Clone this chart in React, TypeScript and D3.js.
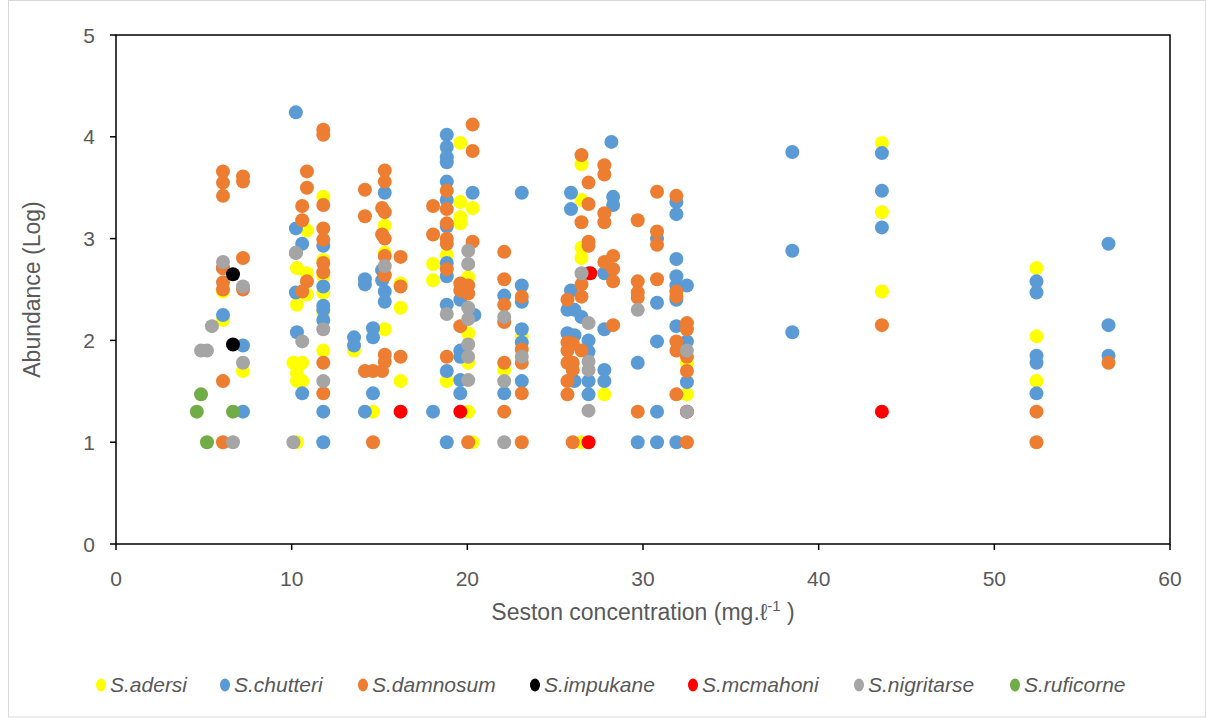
import * as d3 from "d3";

// species colours, in Excel draw order
const species = [
  "S.adersi",
  "S.chutteri",
  "S.damnosum",
  "S.impukane",
  "S.mcmahoni",
  "S.nigritarse",
  "S.ruficorne",
];
const colors = ["#FFFF00", "#5B9BD5", "#ED7D31", "#000000", "#FF0000", "#A5A5A5", "#70AD47"];

const xTicks = [0, 10, 20, 30, 40, 50, 60];
const yTicks = [0, 1, 2, 3, 4, 5];

// [seston, log abundance]
const adersi = [
  [6.09, 2.48], [6.09, 2.2], [7.23, 1.7],
  [10.87, 3.08], [10.3, 2.71], [10.87, 2.66], [11.8, 3.41], [11.8, 2.79], [11.8, 2.63], [11.8, 2.47],
  [10.87, 2.45], [10.3, 2.35], [11.8, 2.27], [11.8, 1.9], [10.1, 1.78], [10.6, 1.78], [10.3, 1.68],
  [10.3, 1.6], [10.6, 1.6], [10.3, 1.0],
  [15.3, 3.13], [15.3, 2.86], [16.2, 2.56], [16.2, 2.32], [15.3, 2.11], [13.55, 1.9], [16.2, 1.6], [14.63, 1.3],
  [19.6, 3.94], [19.6, 3.36], [20.3, 3.3], [19.6, 3.21], [19.6, 3.15], [18.83, 2.84], [18.05, 2.75],
  [18.05, 2.59], [20.05, 2.62], [20.05, 2.07], [20.05, 1.78], [18.83, 1.6], [20.05, 1.3], [20.3, 1.0],
  [22.1, 1.71], [23.1, 2.04],
  [26.5, 3.73], [26.5, 3.38], [26.5, 2.91], [26.5, 2.81], [27.8, 1.47], [26.5, 1.0],
  [32.5, 1.78], [32.5, 1.47],
  [43.6, 3.94], [43.6, 3.26], [43.6, 2.48],
  [52.4, 2.71], [52.4, 2.04], [52.4, 1.6],
];

const chutteri = [
  [6.09, 2.71], [6.09, 2.25], [7.23, 1.95], [7.23, 1.3],
  [10.24, 4.24], [10.24, 3.1], [10.6, 2.95], [11.8, 2.93], [10.24, 2.86], [11.8, 2.53], [10.24, 2.47],
  [11.8, 2.34], [11.8, 2.3], [11.8, 2.2], [10.3, 2.08], [10.6, 1.48], [11.8, 1.3], [11.8, 1.0],
  [15.3, 3.45], [15.15, 2.69], [15.15, 2.59], [14.17, 2.6], [14.17, 2.55], [15.3, 2.48], [15.3, 2.38],
  [14.63, 2.12], [14.63, 2.03], [13.55, 2.03], [13.55, 1.95], [14.63, 1.48], [14.17, 1.3],
  [18.83, 4.02], [18.83, 3.9], [18.83, 3.8], [18.83, 3.75], [18.83, 3.56], [20.3, 3.45], [18.83, 3.38],
  [18.83, 3.12], [18.83, 2.76], [18.83, 2.63], [19.6, 2.4], [18.83, 2.35], [20.4, 2.25], [19.6, 1.9],
  [19.6, 1.84], [18.83, 1.7], [19.6, 1.61], [19.6, 1.48], [18.05, 1.3], [18.83, 1.0],
  [22.1, 2.44], [22.1, 1.48], [23.1, 3.45], [23.1, 2.54], [23.1, 2.38], [23.1, 2.11], [23.1, 1.98], [23.1, 1.6],
  [25.9, 3.45], [25.9, 3.29], [28.2, 3.95], [28.3, 3.41], [28.3, 3.33], [27.8, 2.66], [26.9, 2.66],
  [25.9, 2.49], [25.7, 2.3], [26.1, 2.3], [26.5, 2.23], [27.8, 2.11], [25.7, 2.07], [26.1, 2.05],
  [26.9, 2.0], [26.9, 1.89], [27.8, 1.71], [27.8, 1.6], [26.1, 1.6], [26.9, 1.6], [26.9, 1.47],
  [29.7, 1.78], [29.7, 1.0], [30.8, 3.0], [30.8, 2.37], [30.8, 1.99], [30.8, 1.3], [30.8, 1.0],
  [31.9, 3.36], [31.9, 3.24], [31.9, 2.8], [31.9, 2.63], [31.9, 2.54], [32.5, 2.54], [31.9, 2.4],
  [31.9, 2.14], [32.5, 1.99], [32.5, 1.59], [31.9, 1.0],
  [38.5, 3.85], [38.5, 2.88], [38.5, 2.08],
  [43.6, 3.84], [43.6, 3.47], [43.6, 3.11],
  [52.4, 2.58], [52.4, 2.47], [52.4, 1.85], [52.4, 1.78], [52.4, 1.48],
  [56.5, 2.95], [56.5, 2.15], [56.5, 1.85],
];

const damnosum = [
  [6.09, 3.66], [6.09, 3.55], [6.09, 3.42], [6.09, 2.71], [6.09, 2.57], [6.09, 2.5], [6.09, 1.6], [6.09, 1.0],
  [7.23, 3.61], [7.23, 3.56], [7.23, 2.81], [7.23, 2.5],
  [11.8, 4.07], [11.8, 4.02], [10.87, 3.66], [10.87, 3.5], [11.8, 3.33], [10.6, 3.32], [10.6, 3.18],
  [11.8, 3.1], [11.8, 2.99], [11.8, 2.76], [11.8, 2.67], [10.87, 2.58], [10.6, 2.48], [11.8, 1.78], [11.8, 1.48],
  [15.3, 3.67], [15.3, 3.56], [14.17, 3.48], [14.17, 3.22], [15.15, 3.3], [15.3, 3.26], [15.15, 3.04],
  [15.3, 3.0], [15.3, 2.83], [16.2, 2.82], [15.3, 2.64], [16.2, 2.53], [15.3, 1.86], [15.3, 1.79],
  [16.2, 1.84], [14.17, 1.7], [14.63, 1.7], [15.15, 1.7], [14.63, 1.0],
  [20.3, 4.12], [20.3, 3.86], [18.83, 3.47], [18.05, 3.32], [18.83, 3.29], [18.83, 3.15], [18.05, 3.04],
  [18.83, 3.0], [18.83, 2.95], [20.3, 2.97], [18.83, 2.7], [19.6, 2.56], [19.6, 2.49], [20.05, 2.54],
  [20.05, 2.46], [19.6, 2.14], [18.83, 1.84], [20.05, 1.0],
  [22.1, 2.87], [22.1, 2.6], [22.1, 2.35], [22.1, 2.18], [22.1, 1.78], [22.1, 1.3],
  [23.1, 2.43], [23.1, 1.91], [23.1, 1.78], [23.1, 1.48], [23.1, 1.0],
  [26.5, 3.82], [27.8, 3.72], [27.8, 3.63], [26.9, 3.55], [26.9, 3.34], [27.8, 3.25], [27.8, 3.16],
  [26.5, 3.16], [26.9, 2.97], [26.9, 2.93], [27.8, 2.77], [28.3, 2.83], [28.3, 2.7], [28.3, 2.58],
  [26.5, 2.55], [26.5, 2.43], [25.7, 2.4], [28.3, 2.15], [25.7, 1.98], [26.0, 1.97], [26.5, 1.9],
  [25.7, 1.9], [25.7, 1.78], [26.0, 1.78], [26.0, 1.71], [25.7, 1.6], [25.7, 1.47], [26.0, 1.0],
  [29.7, 3.18], [29.7, 2.58], [29.7, 2.47], [29.7, 2.42], [29.7, 1.3],
  [30.8, 3.46], [30.8, 3.07], [30.8, 2.94], [30.8, 2.6],
  [31.9, 3.42], [31.9, 2.48], [31.9, 2.43], [31.9, 1.99], [31.9, 1.9], [31.9, 1.47],
  [32.5, 2.17], [32.5, 2.11], [32.5, 1.84], [32.5, 1.7], [32.5, 1.0],
  [43.6, 2.15], [52.4, 1.3], [52.4, 1.0], [56.5, 1.78],
];

const impukane = [[6.66, 2.65], [6.66, 1.96]];

const mcmahoni = [[16.2, 1.3], [19.6, 1.3], [27.0, 2.66], [26.9, 1.0], [32.5, 1.3], [43.6, 1.3]];

const nigritarse = [
  [6.09, 2.77], [7.23, 2.53], [5.46, 2.14], [4.84, 1.9], [5.18, 1.9], [7.23, 1.78], [6.66, 1.0],
  [10.24, 2.86], [11.8, 2.11], [10.6, 1.99], [11.8, 1.6], [10.1, 1.0],
  [15.3, 2.73],
  [20.05, 2.88], [20.05, 2.75], [18.83, 2.26], [20.05, 2.32], [20.05, 2.21], [20.05, 1.96], [20.05, 1.84], [20.05, 1.61],
  [22.1, 2.23], [22.1, 1.6], [22.1, 1.0], [23.1, 1.84],
  [26.5, 2.66], [26.9, 2.17], [26.9, 1.79], [26.9, 1.71], [26.9, 1.31],
  [29.7, 2.3], [32.5, 1.9], [32.5, 1.3],
];

const ruficorne = [[4.84, 1.47], [4.6, 1.3], [6.66, 1.3], [5.18, 1.0]];

const seriesData = [adersi, chutteri, damnosum, impukane, mcmahoni, nigritarse, ruficorne];

const W = 1206;
const H = 718;
const margin = { top: 35, right: 36, bottom: 174, left: 116 };
const legendX = [101, 225, 363, 535, 693, 859, 1015];
const font = "'Liberation Sans', Arial, sans-serif";
const textColor = "#595959";

export default function App() {
  const x = d3.scaleLinear().domain([0, 60]).range([margin.left, W - margin.right]);
  const y = d3.scaleLinear().domain([0, 5]).range([H - margin.bottom, margin.top]);
  const [x0, x1] = x.range();
  const [yb, yt] = y.range();

  return (
    <svg
      width={W}
      height={H}
      style={{ position: "absolute", left: 0, top: 0, background: "#fff" }}
      fontFamily={font}
    >
      <rect x={8.5} y={0.5} width={W - 9} height={H - 1.5} fill="#fff" stroke="#d9d9d9" />

      {/* plot frame */}
      <rect x={x0} y={yt} width={x1 - x0} height={yb - yt} fill="none" stroke="#000" strokeWidth={1.5} />

      {yTicks.map((t) => (
        <g key={"y" + t}>
          <line x1={x0 - 6} x2={x0} y1={y(t)} y2={y(t)} stroke="#000" strokeWidth={1.5} />
          <text x={x0 - 21} y={y(t) + 7.5} fontSize={21} textAnchor="end" fill={textColor}>
            {t}
          </text>
        </g>
      ))}

      {xTicks.map((t) => (
        <g key={"x" + t}>
          <line x1={x(t)} x2={x(t)} y1={yb} y2={yb + 6} stroke="#000" strokeWidth={1.5} />
          <text x={x(t)} y={yb + 42} fontSize={21} textAnchor="middle" fill={textColor}>
            {t}
          </text>
        </g>
      ))}

      <text
        transform={`translate(40, ${(yt + yb) / 2}) rotate(-90)`}
        fontSize={23}
        textAnchor="middle"
        fill={textColor}
      >
        Abundance (Log)
      </text>

      <text x={(x0 + x1) / 2} y={yb + 76} fontSize={23} textAnchor="middle" fill={textColor}>
        Seston concentration (mg.ℓ
        <tspan fontSize={15} dy={-9}>-1</tspan>
        <tspan dy={9}> )</tspan>
      </text>

      {seriesData.map((pts, si) => (
        <g key={species[si]}>
          {pts.map((d, i) => (
            <circle key={i} cx={x(d[0])} cy={y(d[1])} r={7} fill={colors[si]} />
          ))}
        </g>
      ))}

      {species.map((s, i) => (
        <g key={"lg" + s}>
          <ellipse cx={legendX[i]} cy={685} rx={5} ry={6.5} fill={colors[i]} />
          <text x={legendX[i] + 9} y={692} fontSize={21} fontStyle="italic" fill={textColor}>
            {s}
          </text>
        </g>
      ))}
    </svg>
  );
}
